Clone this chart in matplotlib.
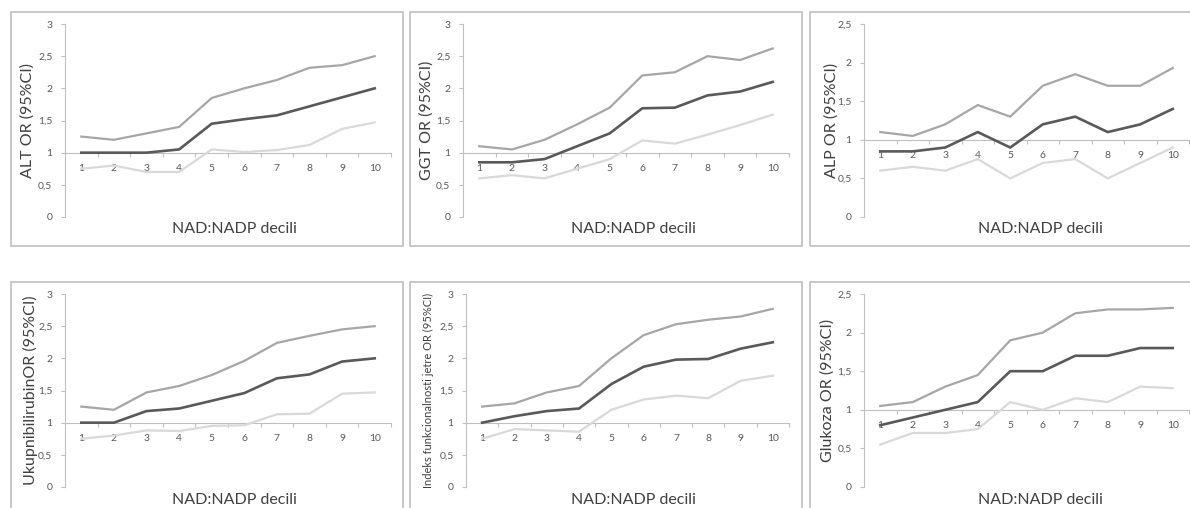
import matplotlib
matplotlib.use("Agg")
import matplotlib.pyplot as plt
from matplotlib.patches import Rectangle
from matplotlib.ticker import FuncFormatter

plt.rcParams["font.family"] = ["Lato", "DejaVu Sans"]

deciles = list(range(1, 11))

alt_mean = [1.0, 1.0, 1.0, 1.05, 1.45, 1.52, 1.58, 1.72, 1.86, 2.0]
alt_upper = [1.25, 1.2, 1.3, 1.4, 1.85, 2.0, 2.13, 2.32, 2.36, 2.5]
alt_lower = [0.75, 0.8, 0.7, 0.7, 1.05, 1.01, 1.04, 1.12, 1.37, 1.47]

ggt_mean = [0.85, 0.85, 0.9, 1.1, 1.3, 1.69, 1.7, 1.89, 1.95, 2.1]
ggt_upper = [1.1, 1.05, 1.2, 1.44, 1.7, 2.2, 2.25, 2.5, 2.44, 2.62]
ggt_lower = [0.6, 0.65, 0.6, 0.75, 0.9, 1.19, 1.14, 1.28, 1.43, 1.59]

alp_mean = [0.85, 0.85, 0.9, 1.1, 0.9, 1.2, 1.3, 1.1, 1.2, 1.4]
alp_upper = [1.1, 1.05, 1.2, 1.45, 1.3, 1.7, 1.85, 1.7, 1.7, 1.93]
alp_lower = [0.6, 0.65, 0.6, 0.75, 0.5, 0.7, 0.75, 0.5, 0.7, 0.9]

bil_mean = [1.0, 1.0, 1.18, 1.22, 1.34, 1.46, 1.69, 1.75, 1.95, 2.0]
bil_upper = [1.25, 1.2, 1.47, 1.57, 1.74, 1.96, 2.24, 2.35, 2.45, 2.5]
bil_lower = [0.75, 0.8, 0.88, 0.87, 0.95, 0.96, 1.13, 1.14, 1.45, 1.47]

ifj_mean = [1.0, 1.1, 1.18, 1.22, 1.6, 1.87, 1.98, 1.99, 2.15, 2.25]
ifj_upper = [1.25, 1.3, 1.47, 1.57, 2.0, 2.36, 2.53, 2.6, 2.65, 2.77]
ifj_lower = [0.75, 0.9, 0.88, 0.86, 1.2, 1.36, 1.42, 1.38, 1.65, 1.73]

glu_mean = [0.8, 0.9, 1.0, 1.1, 1.5, 1.5, 1.7, 1.7, 1.8, 1.8]
glu_upper = [1.05, 1.1, 1.3, 1.45, 1.9, 2.0, 2.25, 2.3, 2.3, 2.32]
glu_lower = [0.55, 0.7, 0.7, 0.75, 1.1, 1.0, 1.15, 1.1, 1.3, 1.28]

W, H = 1190, 508
GRID = "#bfbfbf"
TXT = "#595959"

# (ylabel, ylabel size, ymax, mean, upper, lower, axes box px, frame box px)
panels = [
    ("ALT OR (95%CI)", 11.5, 3.0, alt_mean, alt_upper, alt_lower, (65, 391, 24, 217), (11, 403, 12, 246)),
    ("GGT OR (95%CI)", 11.5, 3.0, ggt_mean, ggt_upper, ggt_lower, (463, 789, 24, 217), (410, 802, 12, 246)),
    ("ALP OR (95%CI)", 11.5, 2.5, alp_mean, alp_upper, alp_lower, (864, 1189, 24, 217), (810, 1195, 12, 246)),
    ("UkupnibilirubinOR (95%CI)", 11.5, 3.0, bil_mean, bil_upper, bil_lower, (65, 391, 294, 487), (11, 403, 282, 515)),
    ("Indeks funkcionalnosti jetre OR (95%CI)", 8, 3.0, ifj_mean, ifj_upper, ifj_lower, (466, 789, 294, 487), (410, 802, 282, 515)),
    ("Glukoza OR (95%CI)", 11.5, 2.5, glu_mean, glu_upper, glu_lower, (864, 1189, 294, 487), (810, 1195, 282, 515)),
]
ylabel_x = [28, 427, 832, 30, 428, 828]
xlabel_pos = [(234, 229), (633, 229), (1040, 229), (234, 500), (633, 500), (1040, 500)]

fig = plt.figure(figsize=(W / 100, H / 100), dpi=100)
fig.patch.set_facecolor("white")

comma = FuncFormatter(lambda v, p: f"{v:g}".replace(".", ","))

for i, (ylab, ysize, ymax, mean, upper, lower, box, frame) in enumerate(panels):
    fl, fr, ft, fb = frame
    fig.patches.append(Rectangle((fl / W, 1 - fb / H), (fr - fl) / W, (fb - ft) / H,
                                 transform=fig.transFigure, fill=False,
                                 edgecolor=GRID, linewidth=1.2))
    l, r, t, b = box
    ax = fig.add_axes([l / W, 1 - b / H, (r - l) / W, (b - t) / H])
    ax.patch.set_alpha(0)
    ax.plot(deciles, lower, color="#d9d9d9", linewidth=1.6, zorder=3)
    ax.plot(deciles, upper, color="#a6a6a6", linewidth=1.6, zorder=3)
    ax.plot(deciles, mean, color="#595959", linewidth=1.9, zorder=4)

    ax.set_xlim(0.5, 10.5)
    ax.set_ylim(0, ymax)
    ax.set_yticks([k * 0.5 for k in range(int(ymax / 0.5) + 1)])
    ax.yaxis.set_major_formatter(comma)
    ax.set_xticks(deciles)
    ax.set_xticks([k + 0.5 for k in range(1, 11)], minor=True)

    for s in ("top", "right"):
        ax.spines[s].set_visible(False)
    ax.spines["left"].set_color(GRID)
    ax.spines["bottom"].set_color(GRID)
    ax.spines["left"].set_linewidth(0.8)
    ax.spines["bottom"].set_linewidth(0.8)
    ax.spines["bottom"].set_position(("data", 1))

    ax.tick_params(axis="x", which="major", length=0, pad=8, labelsize=7.5, labelcolor=TXT)
    ax.tick_params(axis="x", which="minor", length=3, width=0.8, color=GRID, direction="out")
    ax.tick_params(axis="y", length=3, width=0.8, color=GRID, pad=6, labelsize=7.5, labelcolor=TXT)

    fig.text(ylabel_x[i] / W, 1 - (t + b) / 2 / H, ylab, rotation=90, ha="center",
             va="center", fontsize=ysize, color="#404040")
    xx, yy = xlabel_pos[i]
    fig.text(xx / W, 1 - yy / H, "NAD:NADP decili", ha="center", va="center",
             fontsize=11.5, color="#404040")

plt.savefig("out.png", dpi=100)
